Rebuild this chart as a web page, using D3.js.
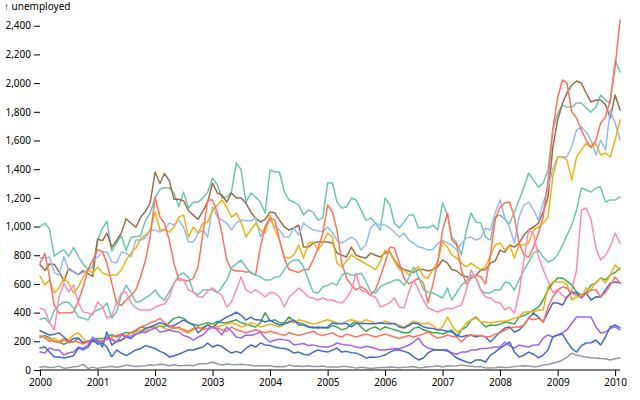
<!DOCTYPE html>
<html>
<head>
<meta charset="utf-8">
<script src="https://cdn.jsdelivr.net/npm/d3@7"></script>
<style>
  html, body { margin: 0; padding: 0; background: #fff; }
  svg { display: block; font: 10px system-ui, sans-serif; }
</style>
</head>
<body>
<svg id="chart" width="640" height="400"></svg>
<script>
// Monthly unemployed (thousands), Jan 2000 – Feb 2010
const wholesaleRetail = [
  1000,1023,983,793,821,837,792,853,791,739,701,715,
  908,990,1037,829,883,936,834,924,930,934,1043,1096,
  1200,1260,1270,1270,1230,1140,1240,1130,1170,1170,1200,1240,
  1338,1290,1199,1206,1241,1443,1397,1171,1234,1206,1171,1094,
  1394,1380,1380,1241,1185,1171,1150,1080,1115,1101,1045,1059,
  1303,1303,1171,1129,1136,1199,1185,1115,1045,1059,1024,976,
  1199,1150,1024,990,1031,1080,1080,990,997,990,1010,976,
  1164,1080,927,885,802,976,1094,1031,1024,927,906,1066,
  1080,1050,1020,1100,1185,1275,1373,1324,1275,1303,1394,1673,
  1790,1847,1833,1833,1861,1861,1826,1798,1833,1917,1882,1861,
  2161,2077];
const manufacturing = [
  734,694,739,736,685,621,708,685,667,693,672,653,
  913,902,954,855,903,956,1054,1023,996,1065,1106,1166,
  1380,1300,1370,1320,1190,1190,1180,1110,1080,1050,1110,1170,
  1303,1234,1220,1171,1234,1199,1199,1164,1100,1059,1032,1050,
  1101,1094,1045,997,976,990,1010,857,857,885,892,892,
  892,885,815,800,788,857,800,788,780,815,800,788,
  815,822,767,718,700,690,680,700,700,690,700,720,
  767,745,700,690,662,650,641,660,697,700,745,760,
  836,822,871,857,885,941,976,997,1024,1101,1206,1550,
  1743,1861,1931,1987,2015,2001,1931,1868,1882,1882,1850,1756,
  1917,1812];
const leisureHospitality = [
  782,780,788,683,662,790,697,683,662,680,700,760,
  788,822,822,753,745,822,815,788,906,906,920,976,
  976,962,980,1024,1010,1045,997,892,892,955,976,927,
  1136,1066,1045,1024,976,1024,1045,1040,1040,1059,927,1000,
  1045,997,976,927,927,990,941,1024,997,976,970,962,
  997,955,906,885,906,927,906,836,871,990,1024,1010,
  1010,990,960,927,955,906,885,857,850,836,840,880,
  906,885,871,836,880,920,927,906,920,990,976,1094,
  1185,1059,997,885,1066,1150,1171,1115,1045,1164,1269,1400,
  1485,1485,1485,1560,1673,1694,1659,1603,1499,1603,1534,1812,
  1722,1603];
const businessServices = [
  655,592,627,537,572,641,606,537,579,648,700,676,
  718,676,662,662,662,697,767,815,850,915,940,976,
  1101,976,976,962,997,1066,1080,927,997,955,1024,1031,
  1115,1150,1185,1136,1066,1094,1031,927,976,1024,976,955,
  1080,976,906,788,780,802,871,780,885,892,836,885,
  955,927,745,718,760,802,780,760,740,720,700,753,
  836,815,760,700,697,662,700,720,650,640,700,753,
  892,857,802,780,745,720,745,720,700,720,800,871,
  885,836,871,780,871,871,885,976,997,1024,1066,1345,
  1485,1485,1464,1324,1485,1534,1582,1548,1582,1499,1513,1485,
  1603,1743];
const construction = [
  745,812,650,450,397,400,397,404,480,580,697,767,
  836,826,745,606,467,450,488,520,560,650,767,930,
  1206,1066,1024,906,745,627,627,620,640,718,955,1185,
  1185,1094,955,767,700,690,690,683,683,662,857,1000,
  1059,1045,906,780,700,690,680,700,700,767,850,950,
  1150,1101,976,745,640,592,558,579,560,523,560,648,
  750,857,850,750,640,600,620,640,606,467,600,750,
  976,1094,906,871,697,600,640,660,650,600,800,1045,
  1136,1164,1171,1066,885,802,788,857,955,1066,1324,1673,
  1900,2022,2001,1800,1757,1673,1603,1554,1600,1722,1764,1882,
  2112,2440];
const educationHealth = [
  353,362,328,418,453,474,470,432,369,362,348,400,
  418,432,467,362,404,523,592,537,474,480,502,523,
  558,509,488,544,606,662,676,648,544,523,558,558,
  558,537,579,627,711,740,767,718,676,662,650,627,
  627,648,650,700,745,767,767,720,627,544,537,579,
  590,606,592,662,676,662,662,676,620,544,537,579,
  600,610,627,627,592,641,718,650,560,544,537,520,
  502,572,488,540,592,620,662,641,558,537,537,560,
  558,613,606,558,627,697,753,815,836,788,753,767,
  802,870,940,1010,1115,1269,1255,1241,1269,1275,1171,1185,
  1185,1206];
const government = [
  430,418,330,279,509,606,544,592,467,404,397,383,
  474,440,362,380,460,537,544,467,432,418,418,418,
  439,453,460,509,606,641,627,558,544,509,509,550,
  572,544,520,439,474,558,648,558,537,558,537,509,
  540,537,509,439,509,537,572,544,509,500,488,502,
  488,488,474,467,500,558,676,558,544,520,509,439,
  453,470,502,439,432,544,627,560,488,432,418,404,
  420,430,425,440,453,558,697,641,558,509,502,474,
  467,420,439,397,537,767,976,950,788,700,620,540,
  560,520,500,560,697,1115,1129,1050,850,767,800,860,
  955,885];
const finance = [
  228,240,226,197,195,179,195,195,221,190,200,210,
  220,219,230,247,230,250,262,260,270,300,290,300,
  290,310,300,330,360,370,360,330,320,310,320,330,
  320,340,330,330,340,350,330,320,310,300,330,400,
  340,350,330,330,370,340,330,320,300,300,290,300,
  290,310,300,280,290,320,340,300,270,290,300,280,
  300,290,280,270,260,260,290,300,280,270,260,260,
  250,265,279,230,280,300,348,369,335,300,314,310,
  320,335,330,320,369,380,397,418,439,488,558,606,
  641,641,620,592,544,523,540,592,606,641,627,662,
  680,711];
const selfEmployed = [
  239,230,210,222,200,220,210,245,260,220,190,210,
  200,210,230,220,195,200,230,260,250,280,270,300,
  300,310,290,280,300,290,270,260,280,290,300,310,
  320,300,310,320,330,320,300,310,330,320,300,310,
  320,310,300,320,340,330,350,340,330,320,330,340,
  350,340,330,320,340,350,340,330,350,340,320,330,
  340,330,320,310,300,320,340,330,320,328,310,279,
  300,369,314,265,280,330,348,362,335,335,330,335,
  340,340,348,360,369,404,404,404,418,418,579,613,
  613,613,600,488,509,509,572,558,613,641,606,662,
  732,697];
const other = [
  274,258,244,250,258,230,195,220,223,188,200,209,
  209,160,265,174,200,210,230,220,250,260,290,300,
  314,330,320,300,310,330,348,330,314,258,290,314,
  293,328,348,370,383,404,383,348,369,350,348,335,
  348,328,314,320,335,348,314,314,300,293,300,293,
  300,328,320,325,325,300,325,325,325,323,325,327,
  325,320,325,300,293,310,328,320,300,293,290,279,
  279,270,265,244,230,240,244,230,240,230,195,230,
  265,293,300,265,279,314,362,397,369,335,404,467,
  467,453,509,544,537,502,537,488,510,509,560,606,
  613,606];
const transportationUtilities = [
  236,224,200,205,190,210,190,200,195,180,200,205,
  190,200,210,230,240,250,240,260,280,300,310,330,
  340,360,330,310,290,300,280,270,290,300,280,290,
  300,290,280,270,300,280,270,260,270,280,270,260,
  270,260,250,240,260,250,240,250,260,270,250,240,
  250,260,240,230,250,240,230,240,250,240,230,240,
  250,240,230,220,230,240,230,240,250,265,240,223,
  230,244,235,230,195,230,244,240,240,230,233,250,
  260,279,290,300,300,314,362,350,362,335,439,509,
  558,579,570,537,520,509,530,558,558,509,540,592,
  648,606];
const information = [
  125,118,153,140,139,104,120,125,160,150,174,230,
  195,200,223,210,195,244,230,237,250,265,260,279,
  293,265,270,279,270,265,240,230,209,230,244,279,
  300,279,244,300,270,230,223,244,240,250,265,223,
  195,209,215,210,205,174,180,185,170,175,165,160,
  160,170,188,180,175,170,160,153,165,160,148,139,
  139,145,150,148,160,174,195,223,174,153,145,139,
  139,130,120,110,125,125,139,139,150,150,153,160,
  160,195,170,153,174,165,160,174,174,223,244,230,
  244,260,279,328,369,369,369,369,300,258,265,290,
  300,279];
const agriculture = [
  154,160,125,91,90,84,90,100,153,140,160,209,
  180,188,160,91,139,118,100,120,140,150,170,160,
  150,130,118,91,100,110,125,139,139,150,160,188,
  160,174,165,139,118,130,118,150,174,160,188,175,
  170,160,153,150,139,118,125,110,104,125,139,130,
  125,139,153,125,130,120,118,104,84,91,88,95,
  104,125,139,139,130,118,91,70,84,120,139,139,
  139,139,110,84,70,56,49,70,70,56,104,125,
  153,174,195,125,91,104,125,110,84,104,139,230,
  244,250,200,150,125,170,188,190,209,174,230,300,
  314,293];
const miningExtraction = [
  19,25,17,20,27,13,16,23,25,39,11,20,
  11,20,21,26,19,25,34,30,24,28,29,37,
  34,40,38,29,36,30,31,33,29,42,44,45,
  56,42,35,42,38,36,40,36,33,28,30,29,
  30,23,24,23,34,27,28,24,29,24,25,28,
  20,22,19,25,24,20,13,19,16,10,14,18,
  18,21,19,15,20,21,25,16,17,22,24,29,
  21,30,28,30,34,30,26,22,25,16,14,16,
  21,17,20,24,27,30,28,22,24,36,38,49,
  56,70,90,118,104,96,91,86,84,80,78,70,
  78,84];

// Series in data order (draw order)
const industries = [
  ["Wholesale and Retail Trade", wholesaleRetail],
  ["Manufacturing", manufacturing],
  ["Leisure and hospitality", leisureHospitality],
  ["Business services", businessServices],
  ["Construction", construction],
  ["Education and Health", educationHealth],
  ["Government", government],
  ["Finance", finance],
  ["Self-employed", selfEmployed],
  ["Other", other],
  ["Transportation and Utilities", transportationUtilities],
  ["Information", information],
  ["Agriculture", agriculture],
  ["Mining and Extraction", miningExtraction]
];

const palette = ["#4269d0","#efb118","#ff725c","#6cc5b0","#3ca951","#ff8ab7","#a463f2","#97bbf5","#9c6b4e","#9498a0"];
const yTicks = [0,200,400,600,800,1000,1200,1400,1600,1800,2000,2200,2400];
const xTickYears = [2000,2001,2002,2003,2004,2005,2006,2007,2008,2009,2010];
const yLabel = "↑ unemployed";

const width = 640, height = 400;
const margin = {top: 20, right: 20, bottom: 30, left: 40};

const start = new Date(Date.UTC(2000, 0, 1));
const nMonths = wholesaleRetail.length;
const dates = d3.range(nMonths).map(i => d3.utcMonth.offset(start, i));

const x = d3.scaleUtc()
  .domain([dates[0], dates[dates.length - 1]])
  .range([margin.left, width - margin.right]);

const yMax = d3.max(industries, d => d3.max(d[1]));
const y = d3.scaleLinear()
  .domain([0, yMax])
  .range([height - margin.bottom, margin.top]);

const color = d3.scaleOrdinal()
  .domain(industries.map(d => d[0]).slice().sort(d3.ascending))
  .range(palette);

const svg = d3.select("#chart");

// Y axis
const gy = svg.append("g")
  .attr("transform", `translate(${margin.left},0)`)
  .call(d3.axisLeft(y).tickValues(yTicks).tickFormat(d3.format(",")).tickSize(6).tickPadding(3));
gy.select(".domain").remove();
gy.selectAll("text").attr("font-size", 10).attr("font-family", "system-ui, sans-serif");

svg.append("text")
  .attr("x", 4)
  .attr("y", 10)
  .attr("font-size", 10)
  .attr("font-family", "system-ui, sans-serif")
  .attr("fill", "currentColor")
  .text(yLabel);

// X axis
const gx = svg.append("g")
  .attr("transform", `translate(0,${height - margin.bottom})`)
  .call(d3.axisBottom(x)
    .tickValues(xTickYears.map(yr => new Date(Date.UTC(yr, 0, 1))))
    .tickFormat(d3.utcFormat("%Y"))
    .tickSize(6).tickPadding(3));
gx.select(".domain").remove();
gx.selectAll("text").attr("font-size", 10).attr("font-family", "system-ui, sans-serif");

// Lines
const line = d3.line()
  .x((d, i) => x(dates[i]))
  .y(d => y(d));

svg.append("g")
  .attr("fill", "none")
  .attr("stroke-width", 1.5)
  .attr("stroke-linejoin", "round")
  .attr("stroke-linecap", "round")
  .selectAll("path")
  .data(industries)
  .join("path")
  .attr("stroke", d => color(d[0]))
  .attr("d", d => line(d[1]))
  .append("title").text(d => d[0]);

// Baseline rule at 0
svg.append("line")
  .attr("x1", margin.left)
  .attr("x2", width - margin.right)
  .attr("y1", y(0))
  .attr("y2", y(0))
  .attr("stroke", "currentColor");
</script>
</body>
</html>
